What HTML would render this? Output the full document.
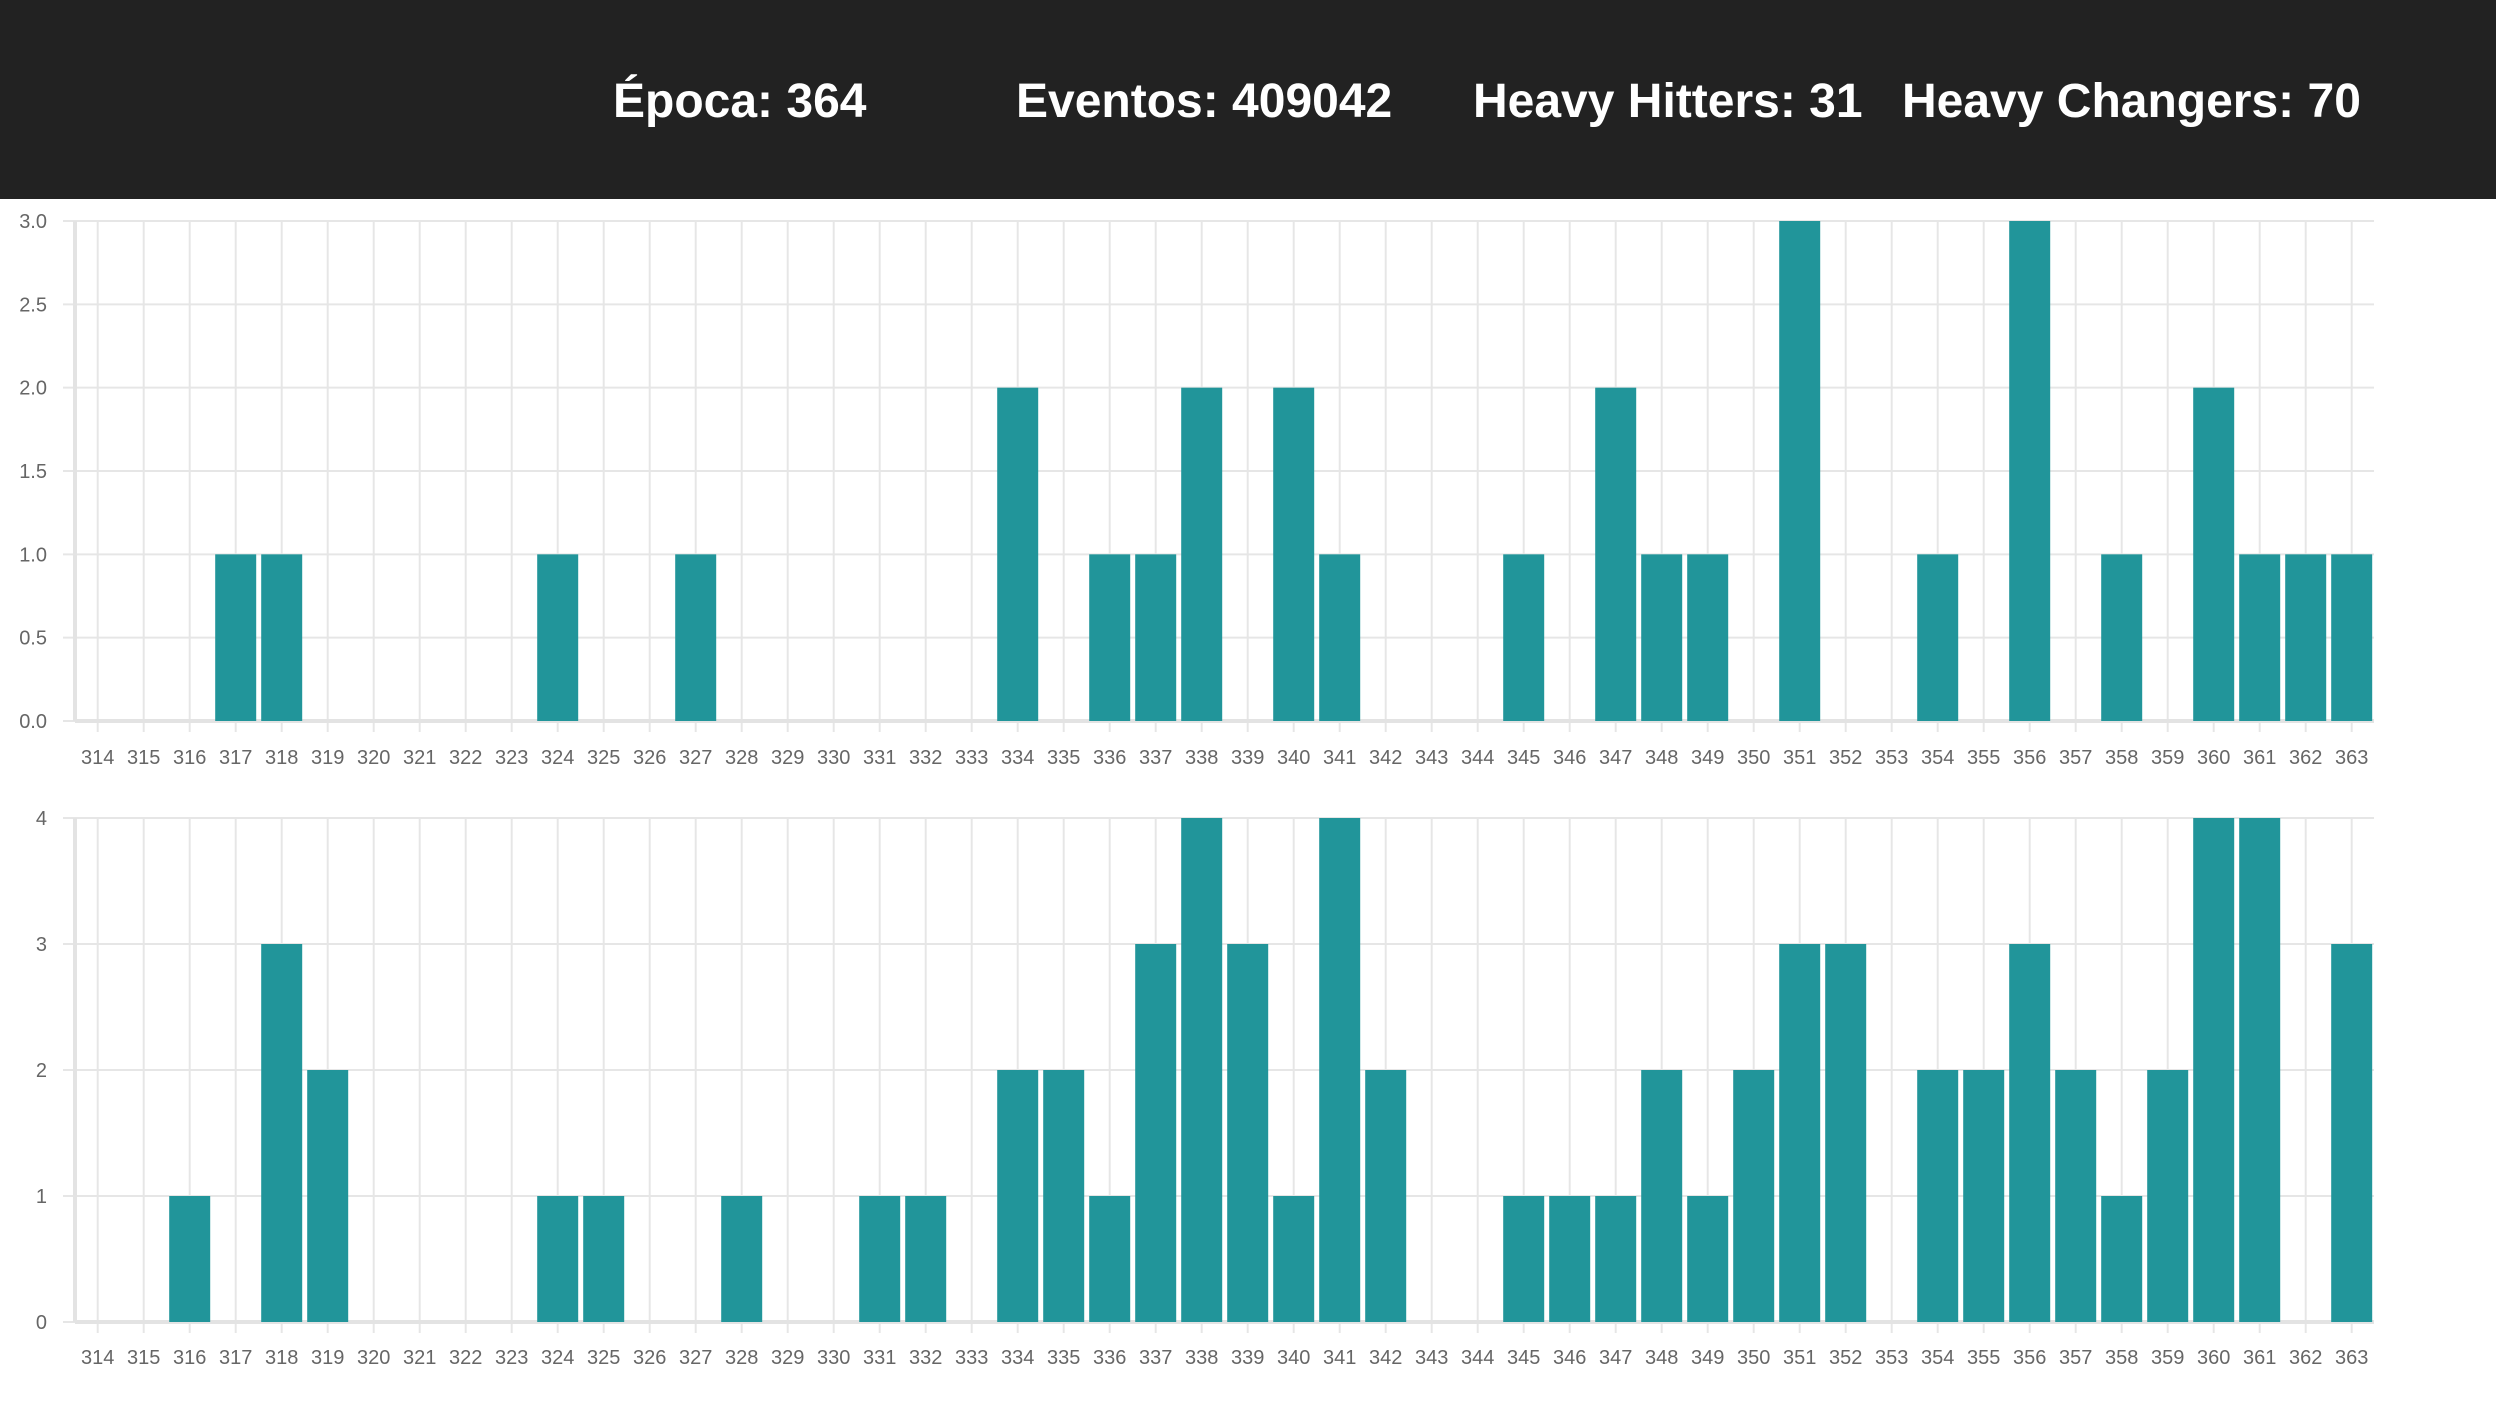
<!DOCTYPE html>
<html><head><meta charset="utf-8"><style>
html,body{margin:0;padding:0;background:#fff;width:2496px;height:1405px;overflow:hidden}
#hdr{position:absolute;left:0;top:0;width:2496px;height:199px;background:#222}
.h{position:absolute;top:74px;font:bold 48px "Liberation Sans",sans-serif;color:#fff;white-space:nowrap}
svg{position:absolute;left:0;top:0}
</style></head><body>
<div id="hdr">
<div class="h" style="left:613px">Época: 364</div>
<div class="h" style="left:1016px">Eventos: 409042</div>
<div class="h" style="left:1473px">Heavy Hitters: 31</div>
<div class="h" style="left:1902px">Heavy Changers: 70</div>
</div>
<svg id="c" width="2496" height="1405"></svg>
<script>
const categories = [];
for (let i = 314; i <= 363; i++) categories.push(i);
const hittersValues = [0,0,0,1,1,0,0,0,0,0,1,0,0,1,0,0,0,0,0,0,2,0,1,1,2,0,2,1,0,0,0,1,0,2,1,1,0,3,0,0,1,0,3,0,1,0,2,1,1,1];
const changersValues = [0,0,1,0,3,2,0,0,0,0,1,1,0,0,1,0,0,1,1,0,2,2,1,3,4,3,1,4,2,0,0,1,1,1,2,1,2,3,3,0,2,2,3,2,1,2,4,4,0,3];
const hittersTicks = [0,0.5,1,1.5,2,2.5,3];
const hittersTickLabels = ["0.0","0.5","1.0","1.5","2.0","2.5","3.0"];
const changersTicks = [0,1,2,3,4];
const changersTickLabels = ["0","1","2","3","4"];

const svg = document.getElementById('c');
const NS = 'http://www.w3.org/2000/svg';
function mk(t, a){const e=document.createElementNS(NS,t);for(const k in a)e.setAttribute(k,a[k]);svg.appendChild(e);return e;}
const x0 = 97.7, step = 46.0, left = 63, right = 2374, axisX = 75;
function xScale(i){return x0 + i*step;}

function draw(prefix, vals, ticks, labels, top, bottom, maxV, labelY){
  const y = v => bottom - (v/maxV)*(bottom-top);
  ticks.forEach((t,i)=>{
    const l = mk('line',{x1:left,x2:right,y1:y(t),y2:y(t),stroke:'#e6e6e6','stroke-width':2});
    
    
    const tx = mk('text',{x:47,y:y(t)+7,'text-anchor':'end','font-family':'Liberation Sans, sans-serif','font-size':20,fill:'#666'});
    tx.textContent = labels[i];
    
    
  });
  categories.forEach((c,i)=>{
    const x = xScale(i);
    const g = mk('line',{x1:x,x2:x,y1:top,y2:bottom+11,stroke:'#e6e6e6','stroke-width':2});
    
    
    const tx = mk('text',{x:x,y:labelY,'text-anchor':'middle','font-family':'Liberation Sans, sans-serif','font-size':20,fill:'#666'});
    tx.textContent = c;
    
    
  });
  const ax = mk('line',{x1:axisX,x2:axisX,y1:top,y2:bottom,stroke:'#e3e3e3','stroke-width':4});
  
  
  const bx = mk('line',{x1:axisX,x2:right,y1:bottom,y2:bottom,stroke:'#e3e3e3','stroke-width':4});
  
  
  vals.forEach((v,i)=>{
    if(!v) return;
    const r = mk('rect',{x:xScale(i)-20.5,y:y(v),width:41,height:bottom-y(v),fill:'#21959a'});
    
    
  });
}
draw('hitters', hittersValues, hittersTicks, hittersTickLabels, 221, 721, 3, 764);
draw('changers', changersValues, changersTicks, changersTickLabels, 818, 1322, 4, 1364);
</script>
</body></html>
